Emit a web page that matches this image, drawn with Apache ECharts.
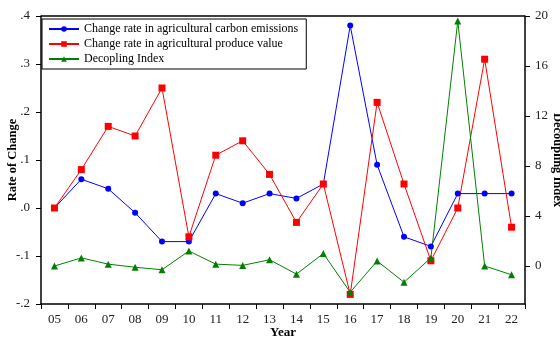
<!DOCTYPE html>
<html>
<head>
    <meta charset="utf-8">
    <title>Decoupling</title>
    <script src="https://cdn.jsdelivr.net/npm/echarts@6/dist/echarts.min.js"></script>
    <style>
        html, body { margin: 0; padding: 0; background: #fff; }
        #main { width: 560px; height: 339px; }
    </style>
</head>
<body>
<div id="main"></div>
<script>
var years = ['05','06','07','08','09','10','11','12','13','14','15','16','17','18','19','20','21','22'];
var carbonRate = [0.00, 0.06, 0.04, -0.01, -0.07, -0.07, 0.03, 0.01, 0.03, 0.02, 0.05, 0.38, 0.09, -0.06, -0.08, 0.03, 0.03, 0.03];
var produceRate = [0.00, 0.08, 0.17, 0.15, 0.25, -0.06, 0.11, 0.14, 0.07, -0.03, 0.05, -0.18, 0.22, 0.05, -0.11, 0.00, 0.31, -0.04];
var decoupling = [0.0, 0.65, 0.15, -0.1, -0.3, 1.2, 0.15, 0.05, 0.5, -0.65, 1.0, -2.1, 0.4, -1.3, 0.65, 19.6, 0.0, -0.7];
var rightTicks = [0, 4, 8, 12, 16, 20];

var serif = '"Liberation Serif", "DejaVu Serif", serif';

// left axis label style: .4  -.1
function fmtLeft(v) {
    var s = Math.abs(v).toFixed(1).replace(/^0/, '');
    return (v < -0.001 ? '-' : '') + s;
}

var chart = echarts.init(document.getElementById('main'));
chart.setOption({
    animation: false,
    textStyle: { fontFamily: serif },
    grid: { left: 41, right: 35, top: 16, bottom: 35, outerBoundsMode: 'none', containLabel: false },
    legend: {
        orient: 'vertical',
        left: 42,
        top: 19,
        padding: [4, 8, 4, 6],
        itemGap: 3,
        itemWidth: 30,
        itemHeight: 7,
        borderColor: '#000',
        borderWidth: 1,
        textStyle: { fontFamily: serif, fontSize: 12, color: '#000' },
        data: ['Change rate in agricultural carbon emissions', 'Change rate in agricultural produce value', 'Decopling Index']
    },
    xAxis: {
        type: 'category',
        data: years,
        boundaryGap: true,
        name: 'Year',
        nameLocation: 'middle',
        nameGap: 22,
        nameMoveOverlap: false,
        nameTextStyle: { fontFamily: serif, fontWeight: 'bold', fontSize: 13, color: '#000' },
        axisLine: { onZero: false, lineStyle: { color: '#000', width: 1.5 } },
        axisTick: { show: true, length: 5, lineStyle: { color: '#000' } },
        axisLabel: { color: '#222', fontSize: 13, fontFamily: serif, margin: 9 },
        splitLine: { show: false }
    },
    yAxis: [{
        type: 'value',
        min: -0.2,
        max: 0.4,
        interval: 0.1,
        name: 'Rate of Change',
        nameLocation: 'middle',
        nameGap: 22,
        nameMoveOverlap: false,
        nameRotate: 90,
        nameTextStyle: { fontFamily: serif, fontWeight: 'bold', fontSize: 12.5, color: '#000' },
        axisLine: { show: true, lineStyle: { color: '#000', width: 1.5 } },
        axisTick: { show: true, length: 5, lineStyle: { color: '#000' } },
        axisLabel: { color: '#222', fontSize: 13, fontFamily: serif, margin: 11, formatter: fmtLeft },
        splitLine: { show: false }
    }, {
        type: 'value',
        min: -3.04,
        max: 20,
        name: 'Decoupling Index',
        nameLocation: 'middle',
        nameGap: 26,
        nameMoveOverlap: false,
        nameRotate: -90,
        nameTextStyle: { fontFamily: serif, fontWeight: 'bold', fontSize: 12.5, color: '#000' },
        axisLine: { show: true, lineStyle: { color: '#000', width: 1.5 } },
        axisTick: { show: true, length: 5, customValues: rightTicks, lineStyle: { color: '#000' } },
        axisLabel: { color: '#222', fontSize: 13, fontFamily: serif, margin: 10, customValues: rightTicks },
        splitLine: { show: false }
    }],
    series: [{
        name: 'Change rate in agricultural carbon emissions',
        type: 'line',
        data: carbonRate,
        yAxisIndex: 0,
        symbol: 'circle',
        symbolSize: 6,
        color: '#0000ff',
        lineStyle: { width: 1, color: '#0000ff' }
    }, {
        name: 'Change rate in agricultural produce value',
        type: 'line',
        data: produceRate,
        yAxisIndex: 0,
        symbol: 'rect',
        symbolSize: 7,
        color: '#ff0000',
        lineStyle: { width: 1, color: '#ff0000' }
    }, {
        name: 'Decopling Index',
        type: 'line',
        data: decoupling,
        yAxisIndex: 1,
        symbol: 'triangle',
        symbolSize: 7,
        color: '#008000',
        lineStyle: { width: 1, color: '#008000' }
    }, {
        // top frame line
        type: 'line',
        data: [],
        xAxisIndex: 0,
        yAxisIndex: 0,
        markLine: {
            silent: true,
            symbol: 'none',
            label: { show: false },
            lineStyle: { color: '#000', width: 1.5, type: 'solid' },
            data: [{ yAxis: 0.4 }]
        }
    }]
});
</script>
</body>
</html>
